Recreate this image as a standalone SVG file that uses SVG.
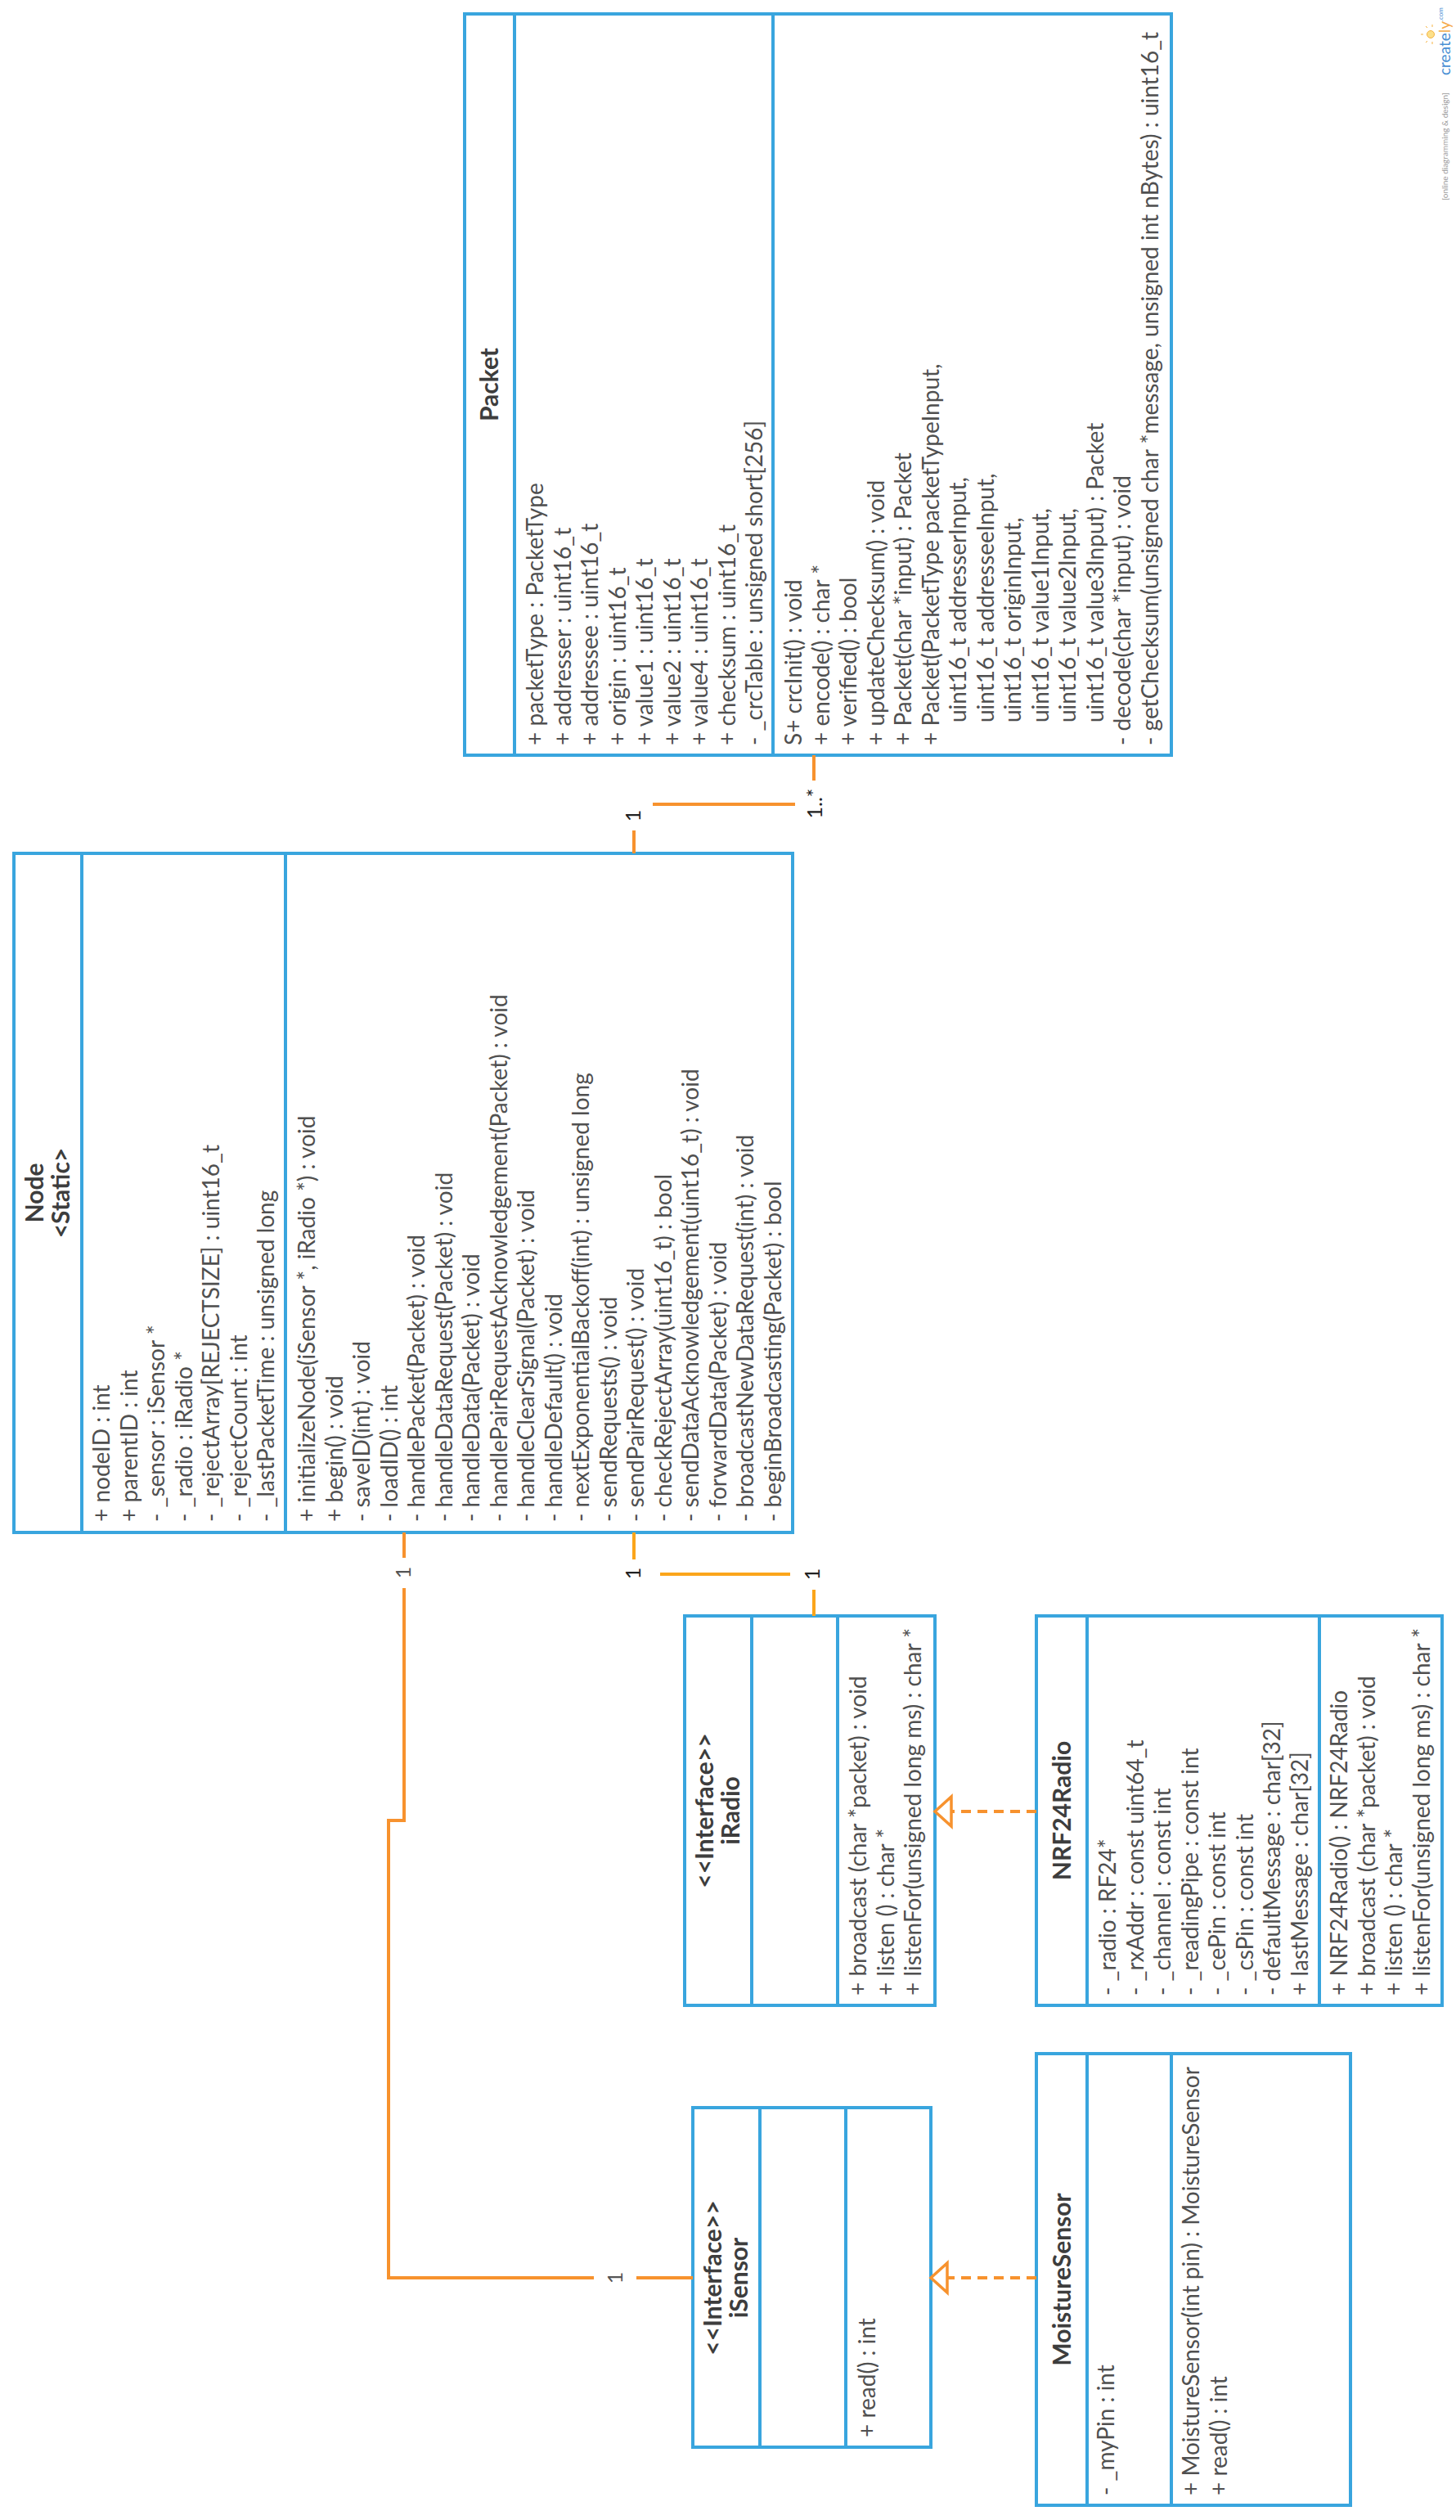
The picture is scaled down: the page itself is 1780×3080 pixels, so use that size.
<svg xmlns="http://www.w3.org/2000/svg" width="1780" height="3080" viewBox="0 0 1780 3080">
  <style>
    .box { fill: #ffffff; stroke: #39a5de; stroke-width: 4; }
    .sep { stroke: #39a5de; stroke-width: 4; fill: none; }
    .t { font-family: Lato, 'Liberation Sans', sans-serif; font-size: 28px; fill: #505050; }
    .h { font-family: Lato, 'Liberation Sans', sans-serif; font-size: 30px; font-weight: bold; fill: #3d3d3d; text-anchor: middle; }
    .lbl { font-family: Lato, 'Liberation Sans', sans-serif; font-size: 25px; fill: #222222; text-anchor: middle; }
    .lbl2 { fill: #555555; }
    .ln { fill: none; stroke: #f7922e; stroke-width: 4; }
    .ln2 { fill: none; stroke: #fba51b; stroke-width: 4; }
    .dash { stroke-dasharray: 12 8; }
    .tri { fill: #ffffff; stroke: #f7922e; stroke-width: 3.5; stroke-linejoin: miter; }
  </style>
  <rect width="1780" height="3080" fill="#ffffff"/>
  <!-- whole class diagram is laid out left-to-right and turned a quarter turn -->
  <g transform="translate(0,3080) rotate(-90)">
    <g id="Packet">
      <rect class="box" x="2157" y="568" width="906" height="864"/>
      <line class="sep" x1="2157" y1="629" x2="3063" y2="629"/>
      <line class="sep" x1="2157" y1="945" x2="3063" y2="945"/>
      <text class="h" x="2610" y="609">Packet</text>
      <text class="t" x="2169" y="664">+ packetType : PacketType</text>
      <text class="t" x="2169" y="697.5">+ addresser : uint16_t</text>
      <text class="t" x="2169" y="731">+ addressee : uint16_t</text>
      <text class="t" x="2169" y="764.5">+ origin : uint16_t</text>
      <text class="t" x="2169" y="798">+ value1 : uint16_t</text>
      <text class="t" x="2169" y="831.5">+ value2 : uint16_t</text>
      <text class="t" x="2169" y="865">+ value4 : uint16_t</text>
      <text class="t" x="2169" y="898.5">+ checksum : uint16_t</text>
      <text class="t" x="2169" y="932">- _crcTable : unsigned short[256]</text>
      <text class="t" x="2169" y="980">S+ crcInit() : void</text>
      <text class="t" x="2169" y="1013.5">+ encode() : char *</text>
      <text class="t" x="2169" y="1047">+ verified() : bool</text>
      <text class="t" x="2169" y="1080.5">+ updateChecksum() : void</text>
      <text class="t" x="2169" y="1114">+ Packet(char *input) : Packet</text>
      <text class="t" x="2169" y="1147.5">+ Packet(PacketType packetTypeInput,</text>
      <text class="t" x="2197" y="1181">uint16_t addresserInput,</text>
      <text class="t" x="2197" y="1214.5">uint16_t addresseeInput,</text>
      <text class="t" x="2197" y="1248">uint16_t originInput,</text>
      <text class="t" x="2197" y="1281.5">uint16_t value1Input,</text>
      <text class="t" x="2197" y="1315">uint16_t value2Input,</text>
      <text class="t" x="2197" y="1348.5">uint16_t value3Input) : Packet</text>
      <text class="t" x="2169" y="1382">- decode(char *input) : void</text>
      <text class="t" x="2169" y="1415.5">- getChecksum(unsigned char *message, unsigned int nBytes) : uint16_t</text>
    </g>
    <g id="Node">
      <rect class="box" x="1207" y="17" width="830" height="952"/>
      <line class="sep" x1="1207" y1="100" x2="2037" y2="100"/>
      <line class="sep" x1="1207" y1="349" x2="2037" y2="349"/>
      <text class="h" x="1622" y="53">Node</text>
      <text class="h" x="1622" y="85">&lt;Static&gt;</text>
      <text class="t" x="1220" y="134">+ nodeID : int</text>
      <text class="t" x="1220" y="167.5">+ parentID : int</text>
      <text class="t" x="1220" y="201">- _sensor : iSensor *</text>
      <text class="t" x="1220" y="234.5">- _radio : iRadio *</text>
      <text class="t" x="1220" y="268">- _rejectArray[REJECTSIZE] : uint16_t</text>
      <text class="t" x="1220" y="301.5">- _rejectCount : int</text>
      <text class="t" x="1220" y="335">- _lastPacketTime : unsigned long</text>
      <text class="t" x="1220" y="385">+ initializeNode(iSensor *, iRadio *) : void</text>
      <text class="t" x="1220" y="418.5">+ begin() : void</text>
      <text class="t" x="1220" y="452">- saveID(int) : void</text>
      <text class="t" x="1220" y="485.5">- loadID() : int</text>
      <text class="t" x="1220" y="519">- handlePacket(Packet) : void</text>
      <text class="t" x="1220" y="552.5">- handleDataRequest(Packet) : void</text>
      <text class="t" x="1220" y="586">- handleData(Packet) : void</text>
      <text class="t" x="1220" y="619.5">- handlePairRequestAcknowledgement(Packet) : void</text>
      <text class="t" x="1220" y="653">- handleClearSignal(Packet) : void</text>
      <text class="t" x="1220" y="686.5">- handleDefault() : void</text>
      <text class="t" x="1220" y="720">- nextExponentialBackoff(int) : unsigned long</text>
      <text class="t" x="1220" y="753.5">- sendRequests() : void</text>
      <text class="t" x="1220" y="787">- sendPairRequest() : void</text>
      <text class="t" x="1220" y="820.5">- checkRejectArray(uint16_t) : bool</text>
      <text class="t" x="1220" y="854">- sendDataAcknowledgement(uint16_t) : void</text>
      <text class="t" x="1220" y="887.5">- forwardData(Packet) : void</text>
      <text class="t" x="1220" y="921">- broadcastNewDataRequest(int) : void</text>
      <text class="t" x="1220" y="954.5">- beginBroadcasting(Packet) : bool</text>
    </g>
    <g id="iRadio">
      <rect class="box" x="629" y="837" width="476" height="306"/>
      <line class="sep" x1="629" y1="919" x2="1105" y2="919"/>
      <line class="sep" x1="629" y1="1024" x2="1105" y2="1024"/>
      <text class="h" x="867" y="872">&lt;&lt;Interface&gt;&gt;</text>
      <text class="h" x="867" y="904">iRadio</text>
      <text class="t" x="641" y="1059">+ broadcast (char *packet) : void</text>
      <text class="t" x="641" y="1092.5">+ listen () : char *</text>
      <text class="t" x="641" y="1126">+ listenFor(unsigned long ms) : char *</text>
    </g>
    <g id="NRF24Radio">
      <rect class="box" x="629" y="1267" width="476" height="496"/>
      <line class="sep" x1="629" y1="1329" x2="1105" y2="1329"/>
      <line class="sep" x1="629" y1="1613" x2="1105" y2="1613"/>
      <text class="h" x="867" y="1309">NRF24Radio</text>
      <text class="t" x="641" y="1364">- _radio : RF24*</text>
      <text class="t" x="641" y="1397.5">- _rxAddr : const uint64_t</text>
      <text class="t" x="641" y="1431">- _channel : const int</text>
      <text class="t" x="641" y="1464.5">- _readingPipe : const int</text>
      <text class="t" x="641" y="1498">- _cePin : const int</text>
      <text class="t" x="641" y="1531.5">- _csPin : const int</text>
      <text class="t" x="641" y="1565">- defaultMessage : char[32]</text>
      <text class="t" x="641" y="1598.5">+ lastMessage : char[32]</text>
      <text class="t" x="641" y="1647">+ NRF24Radio() : NRF24Radio</text>
      <text class="t" x="641" y="1680.5">+ broadcast (char *packet) : void</text>
      <text class="t" x="641" y="1714">+ listen () : char *</text>
      <text class="t" x="641" y="1747.5">+ listenFor(unsigned long ms) : char *</text>
    </g>
    <g id="iSensor">
      <rect class="box" x="89" y="847" width="415" height="291"/>
      <line class="sep" x1="89" y1="929" x2="504" y2="929"/>
      <line class="sep" x1="89" y1="1034" x2="504" y2="1034"/>
      <text class="h" x="296" y="882">&lt;&lt;Interface&gt;&gt;</text>
      <text class="h" x="296" y="914">iSensor</text>
      <text class="t" x="101" y="1070">+ read() : int</text>
    </g>
    <g id="MoistureSensor">
      <rect class="box" x="18" y="1267" width="552" height="384"/>
      <line class="sep" x1="18" y1="1329" x2="570" y2="1329"/>
      <line class="sep" x1="18" y1="1432" x2="570" y2="1432"/>
      <text class="h" x="294" y="1309">MoistureSensor</text>
      <text class="t" x="30" y="1362">- _myPin : int</text>
      <text class="t" x="30" y="1466">+ MoistureSensor(int pin) : MoistureSensor</text>
      <text class="t" x="30" y="1499.5">+ read() : int</text>
    </g>
    <g id="connectors">
      <!-- Packet 1..* to Node 1 -->
      <path class="ln" d="M2157 995 H2126"/>
      <path class="ln" d="M2097 798 V972"/>
      <path class="ln" d="M2065 775 H2037"/>
      <text class="lbl" x="2098" y="1005">1..*</text>
      <text class="lbl" x="2083" y="783">1</text>
      <!-- Node 1 to iRadio 1 -->
      <path class="ln2" d="M1207 775 H1174"/>
      <path class="ln2" d="M1156 807 V966"/>
      <path class="ln2" d="M1137 995 H1105"/>
      <text class="lbl" x="1157" y="783">1</text>
      <text class="lbl" x="1156" y="1002">1</text>
      <!-- Node to iSensor 1 -->
      <path class="ln" d="M1207 494 H1176"/>
      <path class="ln" d="M1139 494 H855 V475 H296 V726"/>
      <path class="ln" d="M296 778 V847"/>
      <text class="lbl lbl2" x="1158" y="502">1</text>
      <text class="lbl lbl2" x="296" y="761">1</text>
      <!-- NRF24Radio realizes iRadio -->
      <path class="ln dash" d="M866 1267 V1163"/>
      <path class="tri" d="M866 1143 L884 1163 L848 1163 Z"/>
      <!-- MoistureSensor realizes iSensor -->
      <path class="ln dash" d="M296 1267 V1158"/>
      <path class="tri" d="M296 1138 L314 1158 L278 1158 Z"/>
    </g>
    <g id="watermark">
      <text x="2835" y="1770" font-family="Lato, 'Liberation Sans', sans-serif" font-size="10" fill="#9a9a9a">[online diagramming &amp; design]</text>
      <text x="2988" y="1773" font-family="Lato, 'Liberation Sans', sans-serif" font-size="19" fill="#4a8fd4">create<tspan fill="#f5a94a">ly</tspan><tspan font-size="8" dy="-9" fill="#4a8fd4">.com</tspan></text>
      <circle cx="3038" cy="1749" r="4.5" fill="#fce08a" stroke="#f5b342" stroke-width="1"/>
      <path d="M3038 1740 V1737 M3030 1745 L3028 1743 M3046 1745 L3048 1743 M3029 1751 H3026 M3047 1751 H3050" stroke="#f5b342" stroke-width="1"/>
    </g>
  </g>
</svg>
